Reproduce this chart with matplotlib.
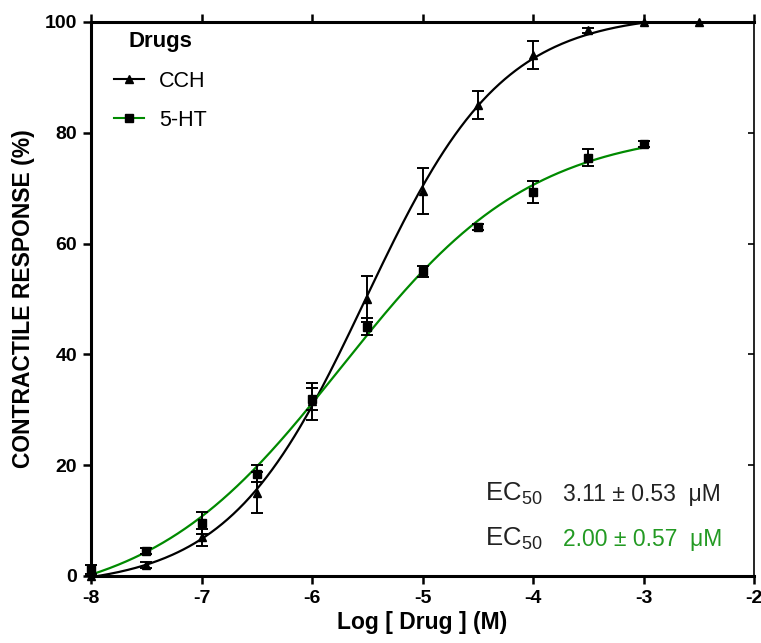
import numpy as np
import matplotlib
matplotlib.use("Agg")
import matplotlib.pyplot as plt
from matplotlib.lines import Line2D

plt.rcParams['font.family'] = ['Liberation Sans', 'DejaVu Sans']
plt.rcParams['mathtext.fontset'] = 'custom'
plt.rcParams['mathtext.rm'] = 'Liberation Sans'
plt.rcParams['mathtext.it'] = 'Liberation Sans:italic'
plt.rcParams['mathtext.bf'] = 'Liberation Sans:bold'

# log concentration (M) and mean contractile response (%) +/- SEM
cch_logc = np.array([-8, -7.5, -7, -6.5, -6, -5.5, -5, -4.5, -4, -3.5, -3, -2.5])
cch_resp = np.array([0.0, 2.0, 7.0, 15.0, 31.5, 50.0, 69.5, 85.0, 94.0, 98.5, 100.0, 100.0])
cch_sem = np.array([0.0, 0.5, 1.5, 3.7, 3.3, 4.2, 4.2, 2.5, 2.5, 0.5, 0.0, 0.0])

ht_logc = np.array([-8, -7.5, -7, -6.5, -6, -5.5, -5, -4.5, -4, -3.5, -3])
ht_resp = np.array([1.2, 4.5, 9.5, 18.5, 32.0, 45.0, 55.0, 63.0, 69.3, 75.5, 78.0])
ht_sem = np.array([0.8, 0.6, 2.0, 1.5, 2.0, 1.5, 1.0, 0.5, 2.0, 1.5, 0.5])

ec50_labels = ['3.11 \u00b1 0.53  \u03bcM', '2.00 \u00b1 0.57  \u03bcM']

GREEN = '#008a00'
TEXT_GREEN = '#239a23'


def fit_hill(x, y):
    # four-parameter logistic; bottom/top solved linearly for each (logEC50, slope)
    best = None
    for lec in np.linspace(-7.0, -4.0, 151):
        for h in np.linspace(0.3, 1.5, 61):
            f = 1.0 / (1.0 + 10 ** ((lec - x) * h))
            A = np.column_stack([np.ones_like(f), f])
            coef = np.linalg.lstsq(A, y, rcond=None)[0]
            sse = np.sum((A @ coef - y) ** 2)
            if best is None or sse < best[0]:
                best = (sse, lec, h, coef[0], coef[1])
    _, lec, h, bottom, span = best
    return lambda xx: bottom + span / (1.0 + 10 ** ((lec - xx) * h))


fig = plt.figure(figsize=(7.61, 6.43), dpi=100)
ax = fig.add_axes([0.1196, 0.1042, 0.8712, 0.8616])

xs = np.linspace(-8, -3, 300)
cch_curve = fit_hill(cch_logc, cch_resp)
ht_curve = fit_hill(ht_logc, ht_resp)

ax.plot(xs, cch_curve(xs), color='black', lw=1.6, zorder=3)
ax.plot(xs, ht_curve(xs), color=GREEN, lw=1.6, zorder=3)

ax.errorbar(cch_logc, cch_resp, yerr=cch_sem, fmt='^', color='black', ms=6,
            capsize=4, elinewidth=1.4, capthick=1.4, zorder=4, clip_on=False)
ax.errorbar(ht_logc, ht_resp, yerr=ht_sem, fmt='s', color='black', ms=6,
            capsize=4, elinewidth=1.4, capthick=1.4, zorder=4, clip_on=False)

ax.set_xlim(-8, -2)
ax.set_ylim(0, 100)
ax.set_xticks(range(-8, -1))
ax.set_yticks(range(0, 101, 20))
ax.set_xticklabels([str(v) for v in range(-8, -1)])

for lab in ax.get_xticklabels() + ax.get_yticklabels():
    lab.set_fontweight('bold')
    lab.set_fontsize(14)

ax.tick_params(which='major', direction='out', length=6, width=1.8, pad=4)
ax.tick_params(axis='x', top=True, labeltop=False)
ax.tick_params(axis='y', right=True, labelright=False)

# top ticks point outward, right ticks point inward
for t in ax.xaxis.get_major_ticks():
    t.tick2line.set_marker(2)  # TICKUP
    t.tick2line.set_markersize(6)
for t in ax.yaxis.get_major_ticks():
    t.tick2line.set_marker(0)  # TICKLEFT
    t.tick2line.set_markersize(4)
    t.tick2line.set_markeredgewidth(1.2)

for side in ['left', 'bottom', 'top']:
    ax.spines[side].set_linewidth(2.2)
ax.spines['right'].set_linewidth(1.2)

ax.set_xlabel('Log [ Drug ] (M)', fontsize=16.5, fontweight='bold', labelpad=3)
ax.set_ylabel('CONTRACTILE RESPONSE (%)', fontsize=16.5, fontweight='bold', labelpad=7)

handles = [
    Line2D([], [], color='black', marker='^', ms=6, lw=1.5),
    Line2D([], [], color=GREEN, marker='s', mfc='black', mec='black', ms=5.5, lw=1.5),
]
leg = ax.legend(handles, ['CCH', '5-HT'], title='Drugs', loc='upper left',
                bbox_to_anchor=(0.005, 1.018), frameon=False, fontsize=15.5,
                handlelength=1.4, handletextpad=0.7, labelspacing=0.85)
leg.get_title().set_fontweight('bold')
leg.get_title().set_fontsize(16)

for i, (lab, col) in enumerate(zip(ec50_labels, ['#222222', TEXT_GREEN])):
    yy = 0.148 - i * 0.0815
    ax.text(0.594, yy, 'EC$_{50}$', transform=ax.transAxes, fontsize=18.5,
            color='#222222', va='center', ha='left')
    ax.text(0.712, yy, lab, transform=ax.transAxes, fontsize=16.5,
            color=col, va='center', ha='left')

fig.savefig('out.png', dpi=100, facecolor='white')
